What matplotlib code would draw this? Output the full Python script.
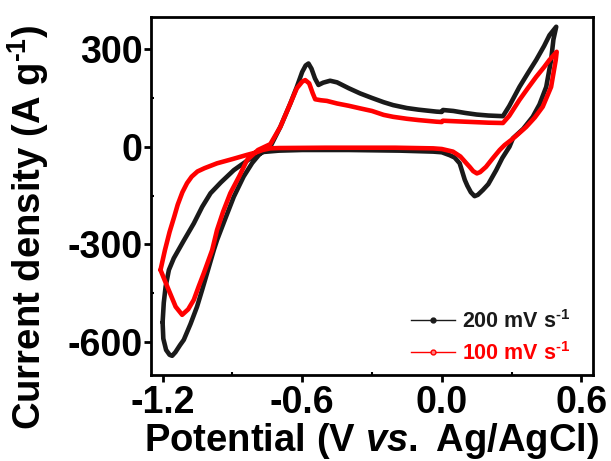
import matplotlib
matplotlib.use("Agg")
import matplotlib.pyplot as plt
from matplotlib.lines import Line2D
from matplotlib.ticker import MultipleLocator

plt.rcParams['font.family'] = ['Liberation Sans', 'DejaVu Sans']
plt.rcParams['font.weight'] = 'bold'
plt.rcParams['axes.unicode_minus'] = False
plt.rcParams['mathtext.fontset'] = 'custom'
plt.rcParams['mathtext.rm'] = 'Liberation Sans:bold'
plt.rcParams['mathtext.bf'] = 'Liberation Sans:bold'
plt.rcParams['mathtext.it'] = 'Liberation Sans:italic:bold'
plt.rcParams['mathtext.default'] = 'bf'

# ---- data (one full CV cycle each) ----
# 200 mV/s : anodic sweep (-1.2 -> 0.5) then cathodic sweep (0.5 -> -1.2)
v200 = [-1.200, -1.197, -1.185, -1.170, -1.159, -1.145, -1.125, -1.109, -1.080,
        -1.052, -1.030, -1.009, -0.980, -0.966, -0.930, -0.894, -0.852, -0.815,
        -0.780, -0.737, -0.694, -0.651, -0.623, -0.600, -0.585, -0.573, -0.560,
        -0.545, -0.530, -0.510, -0.480, -0.450, -0.400, -0.351, -0.300, -0.250,
        -0.209, -0.150, -0.100, -0.023, 0.000, 0.005, 0.050, 0.100, 0.150, 0.200,
        0.263, 0.290, 0.334, 0.370, 0.406, 0.440, 0.463, 0.492,
        0.480, 0.470, 0.449, 0.420, 0.391, 0.350, 0.306, 0.291, 0.260, 0.234,
        0.200, 0.177, 0.155, 0.141, 0.125, 0.110, 0.099, 0.077, 0.055, 0.034,
        0.000, -0.037, -0.180, -0.400, -0.600, -0.700, -0.766, -0.823, -0.894,
        -0.950, -0.994, -1.030, -1.066, -1.110, -1.152, -1.173, -1.187, -1.195,
        -1.200]
i200 = [-540, -590, -625, -640, -643, -632, -610, -594, -545,
        -492, -440, -389, -318, -287, -220, -154, -92, -50,
        -20, 0, 61, 133, 184, 230, 250, 256, 240,
        210, 190, 197, 203, 198, 180, 164, 150, 137,
        128, 119, 114, 108, 107, 113, 110, 104, 99, 96,
        94, 125, 184, 226, 267, 310, 343, 369,
        330, 267, 184, 130, 92, 55, 26, 0, -35, -72,
        -115, -133, -148, -152, -140, -120, -102, -51, -33, -26,
        -17, -15, -12, -10, -10, -12, -16, -36, -72,
        -110, -143, -185, -236, -290, -343, -379, -430, -480,
        -540]

# 100 mV/s
v100 = [-1.209, -1.180, -1.144, -1.116, -1.090, -1.066, -1.045, -1.023, -0.987,
        -0.966, -0.940, -0.909, -0.870, -0.837, -0.790, -0.737, -0.694, -0.651,
        -0.623, -0.600, -0.587, -0.570, -0.555, -0.544, -0.520, -0.494, -0.450,
        -0.400, -0.351, -0.300, -0.250, -0.209, -0.150, -0.100, -0.023, 0.000,
        0.005, 0.100, 0.200, 0.263, 0.290, 0.334, 0.370, 0.406, 0.440, 0.463,
        0.494,
        0.490, 0.470, 0.434, 0.400, 0.363, 0.330, 0.299, 0.270, 0.249, 0.220,
        0.190, 0.165, 0.151, 0.135, 0.120, 0.106, 0.080, 0.048, 0.000, -0.037,
        -0.200, -0.500, -0.700, -0.737, -0.770, -0.800, -0.837, -0.900, -0.966,
        -1.020, -1.050, -1.075, -1.095, -1.115, -1.135, -1.150, -1.170, -1.190,
        -1.209]
i100 = [-379, -430, -492, -517, -500, -471, -430, -389, -318,
        -256, -200, -143, -90, -41, -10, 8, 61, 133,
        180, 200, 205, 195, 165, 146, 143, 141, 133,
        126, 118, 110, 98, 92, 86, 82, 77, 76,
        80, 77, 74, 73, 95, 144, 180, 215, 245, 267,
        292,
        267, 184, 123, 90, 61, 40, 21, 5, -10, -35,
        -62, -78, -82, -75, -62, -51, -30, -15, -7, -5,
        -3, -3, -4, -5, -10, -18, -25, -38, -51,
        -66, -76, -92, -112, -140, -178, -215, -262, -318,
        -379]

labels = ['200 mV s$^{\\text{-1}}$', '100 mV s$^{\\text{-1}}$']
colors = ['#1a1a1a', '#ff0000']
x_ticks = [-1.2, -0.6, 0.0, 0.6]
y_ticks = [-600, -300, 0, 300]

fig = plt.figure(figsize=(6.11, 4.61), dpi=100)
ax = fig.add_axes([0.2471, 0.1866, 0.9705 - 0.2471, 0.9631 - 0.1866])

ax.plot(v200, i200, color=colors[0], lw=3.3, solid_joinstyle='round',
        solid_capstyle='round', zorder=2)
ax.plot(v100, i100, color=colors[1], lw=3.3, solid_joinstyle='round',
        solid_capstyle='round', zorder=3)

ax.set_xlim(-1.25, 0.65)
ax.set_ylim(-702, 399)
ax.set_xticks(x_ticks)
ax.set_yticks(y_ticks)
ax.set_xticklabels([f'{t:.1f}' for t in x_ticks])
ax.set_yticklabels([f'{t:d}' for t in y_ticks])
ax.xaxis.set_minor_locator(MultipleLocator(0.3))
ax.yaxis.set_minor_locator(MultipleLocator(150))

for s in ax.spines.values():
    s.set_linewidth(2.0)
ax.tick_params(which='major', direction='out', length=5, width=2.0,
               labelsize=27, pad=2)
ax.tick_params(axis='y', which='major', pad=1.0)
ax.tick_params(which='minor', direction='in', length=2.5, width=1.5)

ax.set_xlabel('Potential (V $\\mathit{vs.}$ Ag/AgCl)', fontsize=27.5,
              fontweight='bold')
ax.set_ylabel('Current density (A g$^{\\text{-1}}$)', fontsize=27.5,
              fontweight='bold')
ax.xaxis.set_label_coords(0.5, -0.128)
ax.yaxis.set_label_coords(-0.226, 0.413)

handles = [Line2D([], [], color=colors[0], lw=1.0, marker='o', ms=3.5,
                  markerfacecolor=colors[0]),
           Line2D([], [], color=colors[1], lw=1.0, marker='o', ms=3.5,
                  markerfacecolor='#ff8080')]
leg = ax.legend(handles, labels, loc='lower right', frameon=False,
                prop={'size': 15.5, 'weight': 'bold'}, handlelength=2.0,
                handletextpad=0.35, labelspacing=0.42,
                bbox_to_anchor=(0.993, -0.026))
for txt, c in zip(leg.get_texts(), colors):
    txt.set_color(c)

fig.savefig('out.png', dpi=100)
